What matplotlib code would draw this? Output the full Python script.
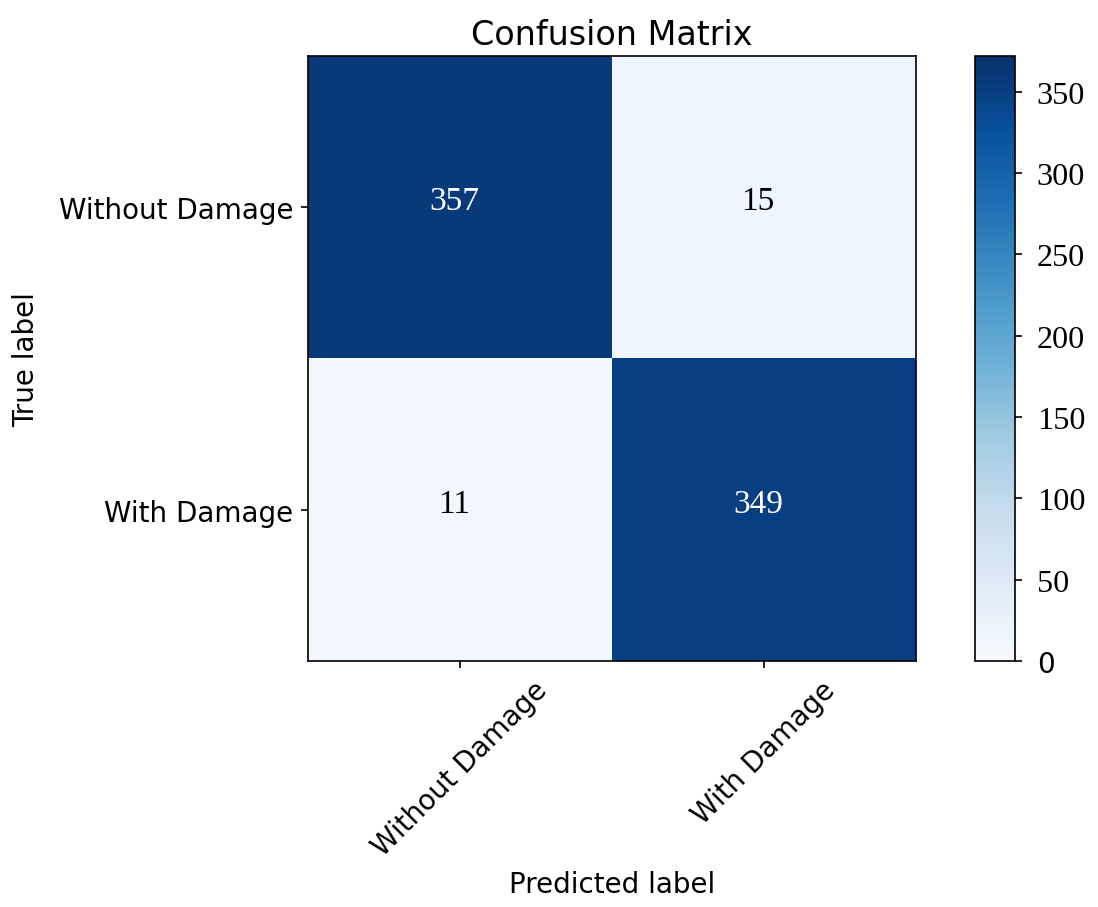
import numpy as np
import matplotlib
matplotlib.use("Agg")
import matplotlib.pyplot as plt

# confusion matrix values
classes = ["Without Damage", "With Damage"]
cm = np.array([[357, 15],
               [11, 349]])
cbar_ticks = [0, 50, 100, 150, 200, 250, 300, 350]
cmax = 372


def plot_confusion(cm, classes):
    fig = plt.figure(figsize=(7.32, 6.0533), dpi=150)
    ax = fig.add_axes([0.2805, 0.2709, 0.5537, 0.6663])
    cax = fig.add_axes([0.888, 0.2709, 0.0364, 0.6663])

    im = ax.imshow(cm, interpolation="nearest", cmap=plt.cm.Blues,
                   vmin=0, vmax=cmax, aspect="auto")
    ax.set_title("Confusion Matrix", fontsize=16)

    cbar = fig.colorbar(im, cax=cax, ticks=cbar_ticks)
    cbar.ax.tick_params(pad=7)
    for lbl in cbar.ax.get_yticklabels():
        if lbl.get_text() != "0":
            lbl.set_family("Liberation Serif")
            lbl.set_fontsize(15.5)
        else:
            lbl.set_fontsize(13.3)

    ticks = np.arange(len(classes))
    ax.set_xticks(ticks)
    ax.set_xticklabels(classes, rotation=45, fontsize=13.3)
    ax.set_yticks(ticks)
    ax.set_yticklabels(classes, fontsize=13.3)

    thresh = cm.max() / 2.0
    for i in range(cm.shape[0]):
        for j in range(cm.shape[1]):
            ax.text(j - 0.02, i - 0.02, str(cm[i, j]),
                    ha="center", va="center", family="Liberation Serif",
                    fontsize=16,
                    color="white" if cm[i, j] > thresh else "black")

    ax.set_ylabel("True label", fontsize=13.3, labelpad=9)
    ax.set_xlabel("Predicted label", fontsize=13.3)
    fig.savefig("out.png", dpi=150)


plot_confusion(cm, classes)
